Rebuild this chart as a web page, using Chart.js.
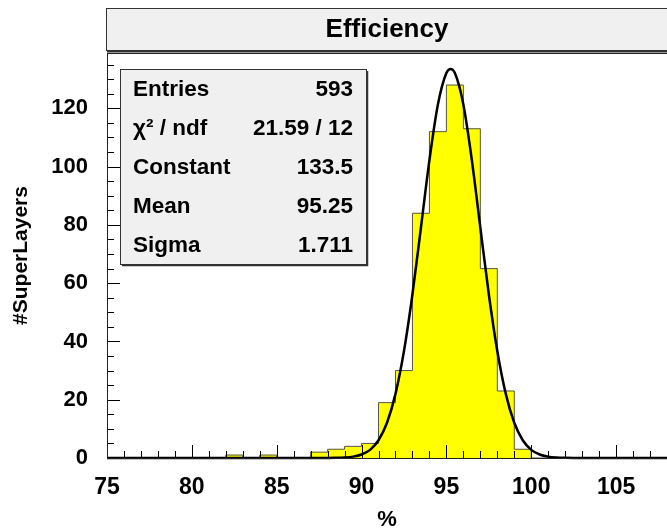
<!DOCTYPE html>
<html>
<head>
<meta charset="utf-8">
<script src="https://cdn.jsdelivr.net/npm/chart.js@4"></script>
<style>
  html, body { margin: 0; padding: 0; background: #fff; overflow: hidden; }
  #wrap { width: 667px; height: 531px; position: relative; }
</style>
</head>
<body>
<div id="wrap"><canvas id="c" width="667" height="531"></canvas></div>
<script>
// ---- data ----
const chartTitle = "Efficiency";
const xAxisTitle = "%";
const yAxisTitle = "#SuperLayers";
// histogram bins (1 % wide), given by their centres, and entries per bin
const binCenters = [82.5, 84.5, 87.5, 88.5, 89.5, 90.5, 91.5, 92.5, 93.5, 94.5, 95.5, 96.5, 97.5, 98.5, 99.5];
const binCounts  = [1,    1,    2,    3,    4,    5,    19,   30,   84,   112,  128,  113,  65,   23,   3];
const fitX = [75, 87, 88, 88.5, 89, 89.5, 90, 90.5, 91, 91.5, 92, 92.5, 93, 93.5, 94, 94.5, 95, 95.25, 95.5, 96, 96.5, 97, 97.5, 98, 98.5, 99, 99.5, 100, 100.5, 101, 101.5, 102, 103, 108];
const fitY = [0, 0, 0.02, 0.06, 0.17, 0.47, 1.2, 2.8, 6.1, 12.1, 22.0, 36.7, 56.2, 79.1, 102.2, 121.3, 132.1, 133.5, 132.1, 121.3, 102.2, 79.1, 56.2, 36.7, 22.0, 12.1, 6.1, 2.8, 1.2, 0.47, 0.17, 0.06, 0, 0];
// tick labels
const xTickLabels = [75, 80, 85, 90, 95, 100, 105];
const yTickLabels = [0, 20, 40, 60, 80, 100, 120];
// statistics box
const statNames  = ["Entries", "\u03C7\u00B2 / ndf", "Constant", "Mean", "Sigma"];
const statValues = ["593", "21.59 / 12", "133.5", "95.25", "1.711"];

const FONT = "'Liberation Sans', Arial, Helvetica, sans-serif";
const X_MIN = 75, X_MAX = 108, BIN_W = 1;

const histData = binCenters.map((x, i) => ({ x: x, y: binCounts[i] }));
// step outline of the histogram (lower bin edge -> count), built from the same bins
const outline = [];
for (let lo = X_MIN; lo < X_MAX; lo += BIN_W) {
  const idx = binCenters.indexOf(lo + BIN_W / 2);
  outline.push({ x: lo, y: idx >= 0 ? binCounts[idx] : 0 });
}
outline.push({ x: X_MAX, y: 0 });
const fitData = fitX.map((x, i) => ({ x: x, y: fitY[i] }));

const framePlugin = {
  id: 'rootFrame',
  beforeDraw(chart) {
    const { ctx } = chart;
    ctx.save();
    ctx.fillStyle = '#fff';
    ctx.fillRect(0, 0, chart.width, chart.height);
    // title box
    const a = chart.chartArea;
    const bx = a.left - 1, by = 8, bw = 680, bh = 42;
    ctx.fillStyle = '#f0f0f0';
    ctx.fillRect(bx, by, bw, bh);
    ctx.strokeStyle = '#333';
    ctx.lineWidth = 1;
    ctx.strokeRect(bx + 0.5, by + 0.5, bw, bh);
    ctx.beginPath();
    ctx.lineWidth = 2;
    ctx.moveTo(bx + 1, by + bh + 1.5);
    ctx.lineTo(bx + bw, by + bh + 1.5);
    ctx.stroke();
    ctx.fillStyle = '#000';
    ctx.font = "bold 26px " + FONT;
    ctx.textAlign = 'center';
    ctx.textBaseline = 'middle';
    ctx.fillText(chartTitle, (a.left + a.right) / 2, by + bh / 2 + 1);
    ctx.restore();
  },
  afterDatasetsDraw(chart) {
    const { ctx, chartArea: a, scales: { x, y } } = chart;
    ctx.save();
    ctx.strokeStyle = '#000';
    ctx.lineWidth = 1;
    ctx.beginPath();
    for (let v = Math.ceil(x.min); v <= x.max; v += 1) {
      const px = Math.round(x.getPixelForValue(v)) + 0.5;
      const len = (v % 5 === 0) ? 13 : 7;
      ctx.moveTo(px, a.bottom);
      ctx.lineTo(px, a.bottom - len);
    }
    for (let v = 0; v <= y.max; v += 5) {
      const py = Math.round(y.getPixelForValue(v)) + 0.5;
      const len = (v % 20 === 0) ? 13 : 7;
      ctx.moveTo(a.left, py);
      ctx.lineTo(a.left + len, py);
    }
    ctx.stroke();
    // frame lines
    ctx.beginPath();
    ctx.strokeStyle = '#222';
    ctx.moveTo(a.left + 0.5, a.top);
    ctx.lineTo(a.left + 0.5, a.bottom);
    ctx.moveTo(a.left, a.top + 0.5);
    ctx.lineTo(a.right, a.top + 0.5);
    ctx.moveTo(a.left, a.bottom + 0.5);
    ctx.lineTo(a.right, a.bottom + 0.5);
    ctx.stroke();

    // statistics box
    const sx = 120, sy = 69, sw = 246, sh = 195;
    ctx.fillStyle = '#f0f0f0';
    ctx.fillRect(sx, sy, sw, sh);
    ctx.strokeStyle = '#333';
    ctx.lineWidth = 1;
    ctx.strokeRect(sx + 0.5, sy + 0.5, sw, sh);
    ctx.beginPath();
    ctx.lineWidth = 1.5;
    ctx.moveTo(sx + sw + 1.5, sy + 2);
    ctx.lineTo(sx + sw + 1.5, sy + sh + 1.5);
    ctx.lineTo(sx + 2, sy + sh + 1.5);
    ctx.stroke();
    ctx.fillStyle = '#000';
    ctx.font = "bold 22.5px " + FONT;
    ctx.textBaseline = 'middle';
    const rowH = sh / statNames.length;
    statNames.forEach((n, i) => {
      const ty = sy + rowH * (i + 0.5) + 1;
      ctx.textAlign = 'left';
      ctx.fillText(n, sx + 13, ty);
      ctx.textAlign = 'right';
      ctx.fillText(statValues[i], sx + sw - 13, ty);
    });
    ctx.restore();
  }
};

new Chart(document.getElementById('c'), {
  type: 'bar',
  data: {
    datasets: [
      {
        type: 'line',
        label: 'gaus fit',
        data: fitData,
        borderColor: '#000',
        borderWidth: 2.5,
        pointRadius: 0,
        fill: false,
        clip: 3,
        cubicInterpolationMode: 'monotone',
        order: 0
      },
      {
        type: 'line',
        label: 'outline',
        data: outline,
        borderColor: '#555',
        borderWidth: 1,
        pointRadius: 0,
        fill: false,
        stepped: 'before',
        order: 1
      },
      {
        type: 'bar',
        label: 'Efficiency',
        data: histData,
        backgroundColor: '#ffff00',
        borderWidth: 0,
        barPercentage: 1.0,
        categoryPercentage: 1.0,
        order: 2
      }
    ]
  },
  options: {
    responsive: false,
    animation: false,
    devicePixelRatio: 1,
    layout: { padding: { top: 53, right: 0, left: 0, bottom: 0 } },
    plugins: { legend: { display: false }, tooltip: { enabled: false }, title: { display: false } },
    scales: {
      x: {
        type: 'linear',
        min: X_MIN,
        max: X_MAX,
        offset: false,
        grid: { display: false, drawTicks: false },
        border: { display: false },
        afterFit(scale) { scale.height = 73; scale.paddingRight = 0; scale.paddingLeft = 0; },
        ticks: {
          stepSize: 1,
          autoSkip: false,
          maxRotation: 0,
          padding: 16,
          color: '#000',
          font: { family: FONT, size: 23, weight: 'bold' },
          callback: (v) => xTickLabels.includes(v) ? String(v) : ''
        },
        title: {
          display: true,
          text: xAxisTitle,
          color: '#000',
          padding: { top: 0, bottom: 0 },
          font: { family: FONT, size: 22, weight: 'bold', lineHeight: 1 }
        }
      },
      y: {
        type: 'linear',
        min: 0,
        max: 139,
        grid: { display: false, drawTicks: false },
        border: { display: false },
        afterFit(scale) { scale.width = 107; },
        ticks: {
          stepSize: 5,
          autoSkip: false,
          padding: 19,
          color: '#000',
          font: { family: FONT, size: 22, weight: 'bold' },
          callback: (v) => yTickLabels.includes(v) ? String(v) : ''
        },
        title: {
          display: true,
          text: yAxisTitle,
          color: '#000',
          padding: { top: 9, bottom: 0 },
          font: { family: FONT, size: 21, weight: 'bold' }
        }
      }
    }
  },
  plugins: [framePlugin]
});
</script>
</body>
</html>
